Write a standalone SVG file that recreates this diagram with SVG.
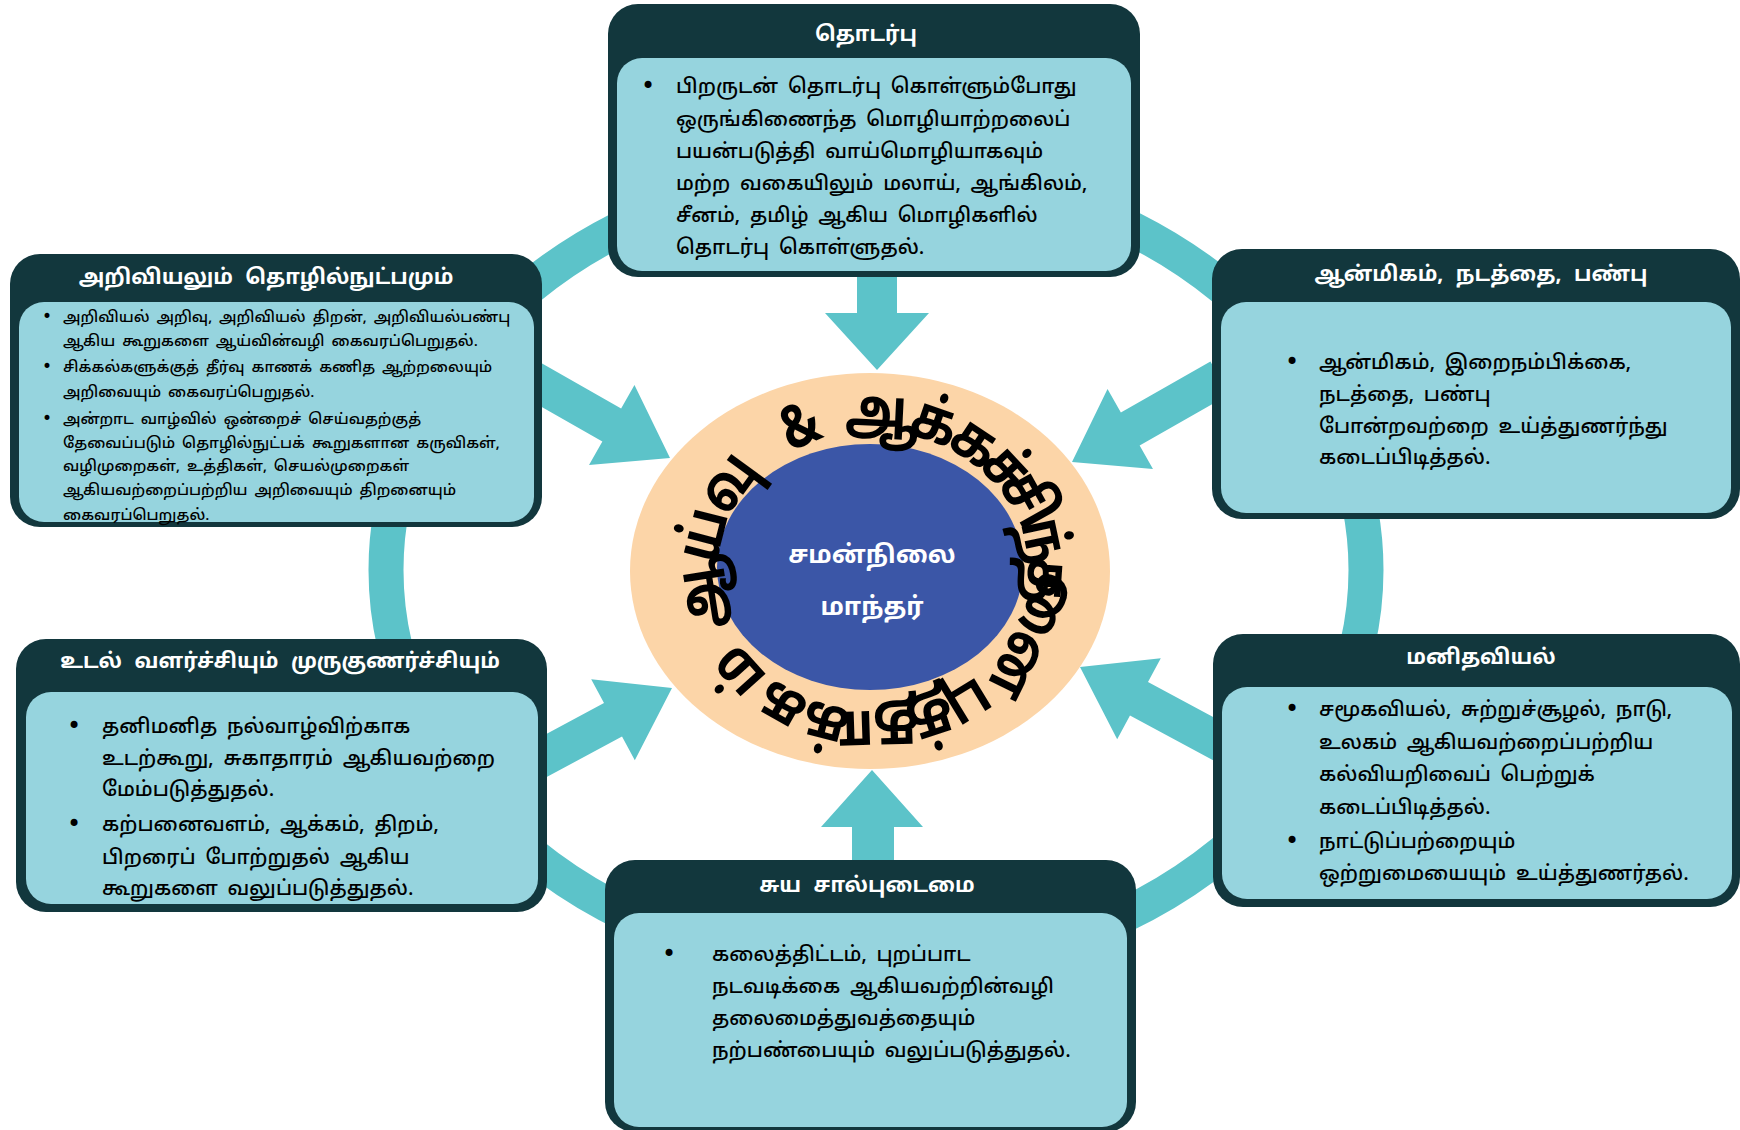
<svg xmlns="http://www.w3.org/2000/svg" xmlns:xlink="http://www.w3.org/1999/xlink" width="1740" height="1130" viewBox="0 0 1740 1130">
<defs>
<style>
.hdr{fill:#12373d}
.bdy{fill:#96d4de}
.ht{font-family:'Noto Sans Tamil','Noto Sans',sans-serif;font-weight:bold;font-size:21px;fill:#ffffff;text-anchor:middle;word-spacing:7px}
.t{font-family:'Noto Sans Tamil','Noto Sans',sans-serif;font-weight:500;font-size:20.3px;fill:#000000;word-spacing:4.5px}
.ts{font-family:'Noto Sans Tamil','Noto Sans',sans-serif;font-weight:500;font-size:15.2px;fill:#000000;word-spacing:3px}
.b{font-family:'DejaVu Sans',sans-serif;font-size:24px;fill:#000000}
.bs{font-family:'DejaVu Sans',sans-serif;font-size:17px;fill:#000000}
.ring{fill:none;stroke:#5cc3c9;stroke-width:35}
.arr{fill:#5cc3c9}
.rt{font-family:'Noto Sans Tamil','Noto Sans',sans-serif;font-weight:bold;font-size:56px;fill:#000000;text-anchor:middle}
.ct{font-family:'Noto Sans Tamil','Noto Sans',sans-serif;font-weight:bold;font-size:25px;fill:#ffffff;text-anchor:middle}
</style>
<path id="arrowD" d="M0,0 L-67,-46 L-67,-19 L-170,-19 L-170,19 L-67,19 L-67,46 Z"/>
</defs>
<rect width="1740" height="1130" fill="#ffffff"/>

<g id="connectors">
<ellipse class="ring" cx="876" cy="570" rx="490" ry="400"/>
<polygon class="arr" points="857,260 897,260 897,313 929,313 877,370 825,313 857,313"/>
<polygon class="arr" points="852,880 852,827 821,827 872,770 923,827 894,827 894,880"/>
<use href="#arrowD" class="arr" transform="translate(670,458) rotate(29.6)"/>
<use href="#arrowD" class="arr" transform="translate(1072,462) rotate(150.4)"/>
<use href="#arrowD" class="arr" transform="translate(672,688) rotate(-28.3)"/>
<use href="#arrowD" class="arr" transform="translate(1080,667) rotate(208.3)"/>
</g>

<g id="node-center">
<ellipse cx="870" cy="571" rx="240" ry="198" fill="#fcd5a8"/>
<ellipse cx="870" cy="567" rx="153" ry="123" fill="#3b56a7"/>
<text class="ct" x="872" y="563">சமன்நிலை</text>
<text class="ct" x="872" y="615">மாந்தர்</text>
<g id="ring-text">
<text class="rt" transform="translate(719.5,590.5) rotate(-98.9) scale(0.9,1.07)">ஆ</text>
<text class="rt" transform="translate(722,539.5) rotate(-75.6) scale(0.9,1.07)">ய்</text>
<text class="rt" transform="translate(743.7,493.7) rotate(-53.8) scale(0.9,1.07)">வு</text>
<text class="rt" transform="translate(807.5,444.1) rotate(-22.8) scale(0.9,1.07)">&amp;</text>
<text class="rt" transform="translate(881.1,431.2) rotate(2.7) scale(0.9,1.07)">ஆ</text>
<text class="rt" transform="translate(928.6,440.3) rotate(19.1) scale(0.9,1.07)">க்</text>
<text class="rt" transform="translate(964.8,458.2) rotate(33.6) scale(0.9,1.07)">க</text>
<text class="rt" transform="translate(991.7,481) rotate(47.1) scale(0.9,1.07)">ச்</text>
<text class="rt" transform="translate(1011.5,508.1) rotate(60.9) scale(0.9,1.07)">சி</text>
<text class="rt" transform="translate(1025.3,544.8) rotate(78.1) scale(0.9,1.07)">ந்</text>
<text class="rt" transform="translate(1027.7,579.5) rotate(93.9) scale(0.9,1.07)">த</text>
<text class="rt" transform="translate(1014.6,627.9) rotate(116.2) scale(0.9,1.07)">னை</text>
<text class="rt" transform="translate(959.7,687.1) rotate(148.6) scale(0.9,1.07)">பு</text>
<text class="rt" transform="translate(926,702.6) rotate(161.8) scale(0.9,1.07)">த்</text>
<text class="rt" transform="translate(878.4,710.9) rotate(178.2) scale(0.9,1.07)">தா</text>
<text class="rt" transform="translate(830.3,705.6) rotate(194.5) scale(0.9,1.07)">க்</text>
<text class="rt" transform="translate(790.9,689.7) rotate(209.5) scale(0.9,1.07)">க</text>
<text class="rt" transform="translate(752.5,659.1) rotate(228.1) scale(0.9,1.07)">ம்</text>
</g>
</g>

<g id="node-top">
<rect class="hdr" x="608" y="4" width="532" height="273" rx="30"/>
<rect class="bdy" x="617" y="58" width="514" height="213" rx="25"/>
<text class="ht" x="866" y="41">தொடர்பு</text>
<text class="b" x="641" y="94">•</text>
<text class="t"><tspan x="676" y="93">பிறருடன் தொடர்பு கொள்ளும்போது</tspan><tspan x="676" y="126">ஒருங்கிணைந்த மொழியாற்றலைப்</tspan><tspan x="676" y="158">பயன்படுத்தி வாய்மொழியாகவும்</tspan><tspan x="676" y="190">மற்ற வகையிலும் மலாய், ஆங்கிலம்,</tspan><tspan x="676" y="222">சீனம், தமிழ் ஆகிய மொழிகளில்</tspan><tspan x="676" y="254">தொடர்பு கொள்ளுதல்.</tspan></text>
</g>

<g id="node-science">
<rect class="hdr" x="10" y="254" width="532" height="273" rx="30"/>
<rect class="bdy" x="19" y="302" width="515" height="220" rx="25"/>
<text class="ht" x="266" y="284">அறிவியலும் தொழில்நுட்பமும்</text>
<text class="bs" x="42" y="322">•</text>
<text class="bs" x="42" y="372">•</text>
<text class="bs" x="42" y="424">•</text>
<text class="ts"><tspan x="63" y="322">அறிவியல் அறிவு, அறிவியல் திறன், அறிவியல்பண்பு</tspan><tspan x="63" y="346">ஆகிய கூறுகளை ஆய்வின்வழி கைவரப்பெறுதல்.</tspan><tspan x="63" y="372">சிக்கல்களுக்குத் தீர்வு காணக் கணித ஆற்றலையும்</tspan><tspan x="63" y="397">அறிவையும் கைவரப்பெறுதல்.</tspan><tspan x="63" y="424">அன்றாட வாழ்வில் ஒன்றைச் செய்வதற்குத்</tspan><tspan x="63" y="448">தேவைப்படும் தொழில்நுட்பக் கூறுகளான கருவிகள்,</tspan><tspan x="63" y="471">வழிமுறைகள், உத்திகள், செயல்முறைகள்</tspan><tspan x="63" y="495">ஆகியவற்றைப்பற்றிய அறிவையும் திறனையும்</tspan><tspan x="63" y="520">கைவரப்பெறுதல்.</tspan></text>
</g>

<g id="node-spiritual">
<rect class="hdr" x="1212" y="249" width="528" height="270" rx="30"/>
<rect class="bdy" x="1221" y="302" width="510" height="211" rx="25"/>
<text class="ht" x="1481" y="281">ஆன்மிகம், நடத்தை, பண்பு</text>
<text class="b" x="1285" y="370">•</text>
<text class="t"><tspan x="1319" y="369">ஆன்மிகம், இறைநம்பிக்கை,</tspan><tspan x="1319" y="401">நடத்தை, பண்பு</tspan><tspan x="1319" y="433">போன்றவற்றை உய்த்துணர்ந்து</tspan><tspan x="1319" y="464">கடைப்பிடித்தல்.</tspan></text>
</g>

<g id="node-physical">
<rect class="hdr" x="16" y="639" width="531" height="273" rx="30"/>
<rect class="bdy" x="26" y="692" width="512" height="212" rx="25"/>
<text class="ht" x="280" y="668">உடல் வளர்ச்சியும் முருகுணர்ச்சியும்</text>
<text class="b" x="67" y="734">•</text>
<text class="b" x="67" y="832">•</text>
<text class="t"><tspan x="102" y="733">தனிமனித நல்வாழ்விற்காக</tspan><tspan x="102" y="765">உடற்கூறு, சுகாதாரம் ஆகியவற்றை</tspan><tspan x="102" y="796">மேம்படுத்துதல்.</tspan><tspan x="102" y="831">கற்பனைவளம், ஆக்கம், திறம்,</tspan><tspan x="102" y="864">பிறரைப் போற்றுதல் ஆகிய</tspan><tspan x="102" y="895">கூறுகளை வலுப்படுத்துதல்.</tspan></text>
</g>

<g id="node-humanities">
<rect class="hdr" x="1213" y="634" width="527" height="273" rx="30"/>
<rect class="bdy" x="1222" y="687" width="510" height="212" rx="25"/>
<text class="ht" x="1481" y="664">மனிதவியல்</text>
<text class="b" x="1285" y="717">•</text>
<text class="b" x="1285" y="849">•</text>
<text class="t"><tspan x="1319" y="716">சமூகவியல், சுற்றுச்சூழல், நாடு,</tspan><tspan x="1319" y="749">உலகம் ஆகியவற்றைப்பற்றிய</tspan><tspan x="1319" y="781">கல்வியறிவைப் பெற்றுக்</tspan><tspan x="1319" y="814">கடைப்பிடித்தல்.</tspan><tspan x="1319" y="848">நாட்டுப்பற்றையும்</tspan><tspan x="1319" y="880">ஒற்றுமையையும் உய்த்துணர்தல்.</tspan></text>
</g>

<g id="node-self">
<rect class="hdr" x="605" y="860" width="531" height="272" rx="30"/>
<rect class="bdy" x="614" y="913" width="513" height="214" rx="25"/>
<text class="ht" x="867" y="892">சுய சால்புடைமை</text>
<text class="b" x="662" y="962">•</text>
<text class="t"><tspan x="712" y="961">கலைத்திட்டம், புறப்பாட</tspan><tspan x="712" y="993">நடவடிக்கை ஆகியவற்றின்வழி</tspan><tspan x="712" y="1025">தலைமைத்துவத்தையும்</tspan><tspan x="712" y="1057">நற்பண்பையும் வலுப்படுத்துதல்.</tspan></text>
</g>
</svg>
